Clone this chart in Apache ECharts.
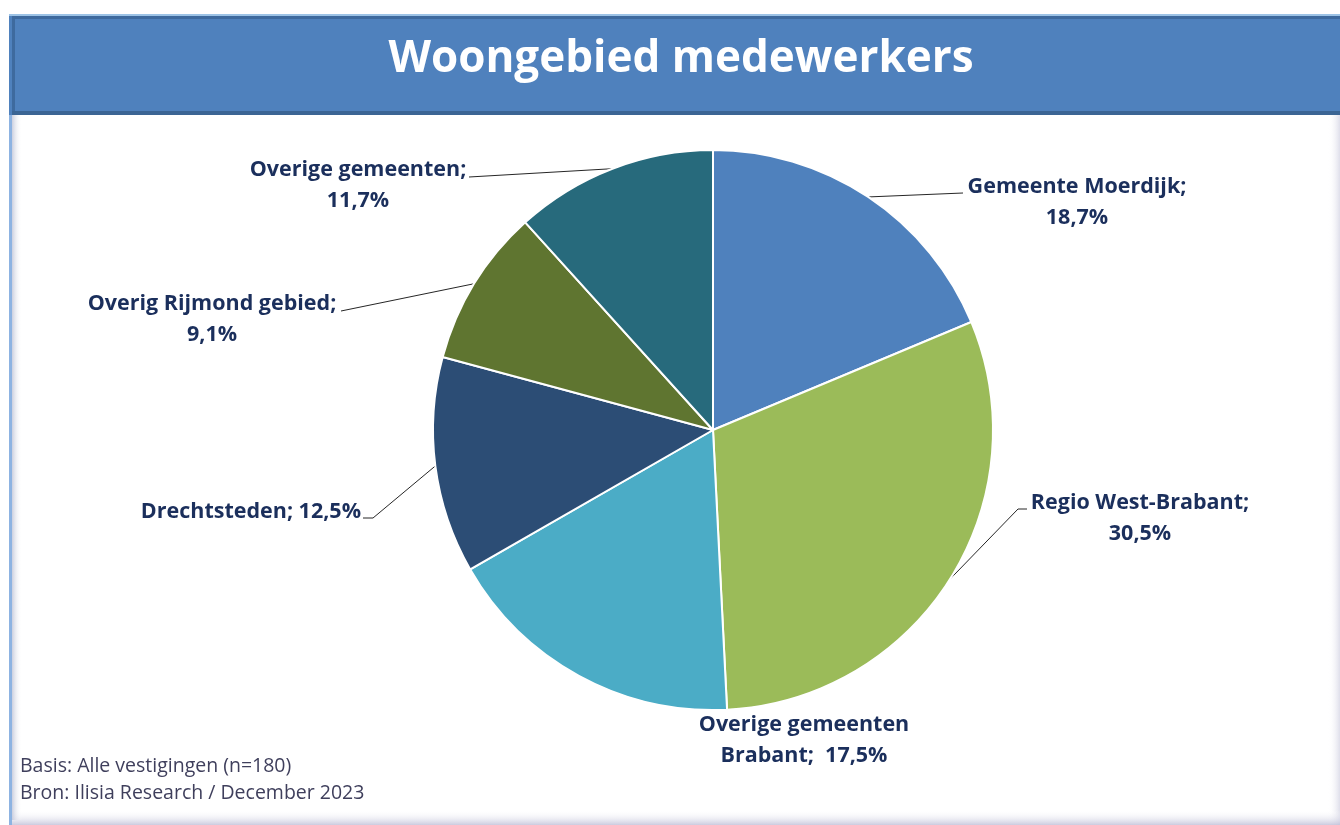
<!DOCTYPE html>
<html>
<head>
<meta charset="utf-8">
<script src="https://cdn.jsdelivr.net/npm/echarts@6/dist/echarts.min.js"></script>
<style>
html,body{margin:0;padding:0;background:#fff;}
#chart{width:1340px;height:825px;}
</style>
</head>
<body>
<div id="chart"></div>
<script>
// ---- data ----
const categories = ["Gemeente Moerdijk", "Regio West-Brabant", "Overige gemeenten Brabant", "Drechtsteden", "Overig Rijmond gebied", "Overige gemeenten"];
const values = [18.7, 30.5, 17.5, 12.5, 9.1, 11.7];
const labelTexts = ["Gemeente Moerdijk;\n18,7%", "Regio West-Brabant;\n30,5%", "Overige gemeenten\nBrabant;  17,5%", "Drechtsteden; 12,5%", "Overig Rijmond gebied;\n9,1%", "Overige gemeenten;\n11,7%"];
const titleText = "Woongebied medewerkers";
const footnotes = ["Basis: Alle vestigingen (n=180)", "Bron: Ilisia Research / December 2023"];

// ---- style / layout ----
const colors = ["#4F81BD", "#9BBB59", "#4BACC6", "#2C4D75", "#5F7530", "#276A7C"];
const labelLayoutCfg = [
  {x: 1077, y: 202, align: 'center', elbow: [963, 193], end: [963, 193]},
  {x: 1140, y: 518, align: 'center', elbow: [1018, 509], end: [1027, 509]},
  {x: 804, y: 740, align: 'center', elbow: null, end: null},
  {x: 361, y: 512, align: 'right', elbow: [373, 518], end: [363, 518]},
  {x: 212, y: 319, align: 'center', elbow: [341, 311], end: [341, 311]},
  {x: 358, y: 185, align: 'center', elbow: [469, 177], end: [469, 177]}
];
const CX = 713, CY = 430, R = 280;
const labelFont = 'Open Sans';

const chart = echarts.init(document.getElementById('chart'), null, {renderer: 'canvas'});

const pieData = categories.map((c, i) => ({
  name: c,
  value: values[i],
  itemStyle: {color: colors[i]},
  label: {formatter: labelTexts[i], align: labelLayoutCfg[i].align},
  labelLine: {show: !!labelLayoutCfg[i].end}
}));

const option = {
  backgroundColor: '#ffffff',
  animation: false,
  graphic: [
    {type: 'rect', shape: {x: 1328, y: 14, width: 12, height: 811},
      style: {fill: new echarts.graphic.LinearGradient(0, 0, 1, 0, [{offset: 0, color: 'rgba(255,255,255,0)'}, {offset: 1, color: 'rgba(200,200,220,0.6)'}])}, z: 1},
    {type: 'rect', shape: {x: 10, y: 810, width: 1330, height: 15},
      style: {fill: new echarts.graphic.LinearGradient(0, 0, 0, 1, [{offset: 0, color: 'rgba(255,255,255,0)'}, {offset: 1, color: 'rgba(190,190,215,0.8)'}])}, z: 1},
    {type: 'rect', shape: {x: 9, y: 14, width: 3, height: 811}, style: {fill: '#8DB3E2'}, z: 2},
    {type: 'rect', shape: {x: 12, y: 115, width: 10, height: 705},
      style: {fill: new echarts.graphic.LinearGradient(0, 0, 1, 0, [{offset: 0, color: 'rgba(190,195,215,0.8)'}, {offset: 1, color: 'rgba(255,255,255,0)'}])}, z: 1},
    {type: 'rect', shape: {x: 9, y: 14, width: 1331, height: 101}, style: {fill: '#4F81BD'}, z: 3},
    {type: 'rect', shape: {x: 9, y: 14, width: 1331, height: 2}, style: {fill: '#9DC3E6'}, z: 4},
    {type: 'rect', shape: {x: 12, y: 16, width: 1328, height: 3}, style: {fill: '#3E6A9E'}, z: 4},
    {type: 'rect', shape: {x: 12, y: 16, width: 3, height: 99}, style: {fill: '#3E6A9E'}, z: 4},
    {type: 'rect', shape: {x: 12, y: 111, width: 1328, height: 4}, style: {fill: '#3B6594'}, z: 4},
    {type: 'text', left: 20, top: 756, z: 5,
      style: {text: footnotes[0], fill: '#3F3F5C', font: '19.5px "Open Sans", sans-serif'}},
    {type: 'text', left: 20, top: 783, z: 5,
      style: {text: footnotes[1], fill: '#3F3F5C', font: '19.5px "Open Sans", sans-serif'}}
  ],
  title: {
    text: titleText,
    left: 676, top: 54, textAlign: 'center', textVerticalAlign: 'middle',
    textStyle: {color: '#ffffff', fontFamily: labelFont, fontWeight: 'bold', fontSize: 44},
    z: 10
  },
  series: [{
    type: 'pie',
    center: [CX, CY],
    radius: [0, R],
    startAngle: 90,
    clockwise: true,
    z: 6,
    itemStyle: {borderColor: '#ffffff', borderWidth: 2},
    label: {
      show: true,
      color: '#1B2F5C',
      fontFamily: labelFont,
      fontWeight: 'bold',
      fontSize: 21.5,
      lineHeight: 31
    },
    labelLine: {show: true, lineStyle: {color: '#262626', width: 1}},
    labelLayout: function (params) {
      const i = params.dataIndex;
      const L = labelLayoutCfg[i];
      const out = {x: L.x, y: L.y, align: L.align, verticalAlign: 'middle'};
      if (L.end && params.labelLinePoints && params.labelLinePoints.length) {
        const p0 = params.labelLinePoints[0];
        out.labelLinePoints = [[p0[0], p0[1]], L.elbow, L.end];
      }
      return out;
    },
    emphasis: {disabled: true},
    data: pieData
  }]
};
chart.setOption(option);
</script>
</body>
</html>
